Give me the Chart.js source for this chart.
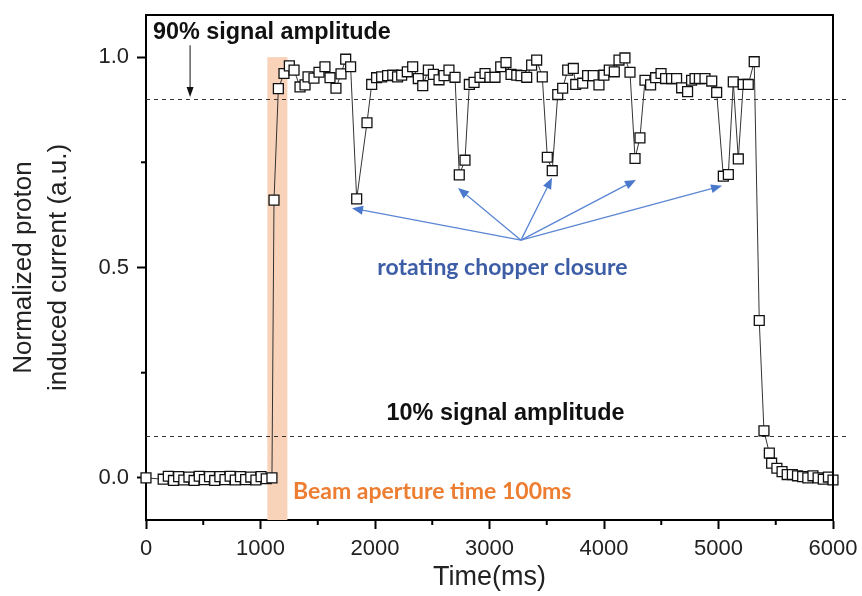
<!DOCTYPE html>
<html>
<head>
<meta charset="utf-8">
<script src="https://cdn.jsdelivr.net/npm/chart.js@4.4.0/dist/chart.umd.min.js"></script>
<style>
  body { margin: 0; background: #fff; }
  #wrap { width: 862px; height: 596px; position: relative; }
</style>
</head>
<body>
<div id="wrap"><canvas id="chart"></canvas></div>
<script>
// Measured signal (time in ms, normalized current)
const timeMs = [
    0, 150, 195, 240, 285, 330, 375, 420, 465, 510, 555, 600, 645, 690, 735, 780, 825, 870, 915, 960, 1005, 1050, 1100,
    1118, 1156, 1205, 1252, 1293, 1345, 1389, 1415, 1467, 1511, 1563, 1607, 1659, 1703, 1744, 1787,
    1840, 1930, 1971, 2014, 2058, 2110, 2155, 2197, 2233, 2282, 2329, 2378, 2417, 2466, 2510, 2559, 2603, 2646, 2699,
    2736, 2786, 2824, 2865, 2917, 2961, 3004, 3048, 3098, 3144, 3188, 3238, 3275, 3325, 3368, 3412, 3461,
    3505, 3548, 3596, 3639, 3683, 3732, 3753, 3814, 3857, 3906, 3956, 3999, 4046, 4090, 4131, 4183, 4227,
    4271, 4314, 4358, 4407, 4451, 4498, 4538, 4590, 4634, 4678, 4730, 4765, 4795, 4833, 4882, 4941, 4984,
    5042, 5086, 5129, 5173, 5216, 5260, 5312, 5356, 5397, 5444, 5464, 5510, 5555, 5600, 5645, 5690, 5735,
    5780, 5825, 5870, 5915, 5960, 6000
];
const current = [
    0, -0.003, 0.004, -0.006, 0.003, -0.005, 0.002, -0.006, 0.004, -0.004, 0.003, -0.006, 0.003, -0.004, 0.004, -0.005, 0.003, -0.004, 0.002, -0.005, 0.003, -0.002, 0.0,
    0.66, 0.925, 0.961, 0.979, 0.969, 0.929, 0.934, 0.953, 0.950, 0.964, 0.977, 0.951, 0.926, 0.960, 0.995, 0.977,
    0.663, 0.844, 0.935, 0.951, 0.953, 0.956, 0.957, 0.953, 0.957, 0.965, 0.977, 0.949, 0.932, 0.969, 0.959, 0.946, 0.956, 0.969, 0.952,
    0.720, 0.755, 0.935, 0.940, 0.952, 0.961, 0.952, 0.952, 0.977, 0.987, 0.959, 0.957, 0.956, 0.952, 0.981, 0.993, 0.953,
    0.762, 0.730, 0.911, 0.926, 0.969, 0.973, 0.935, 0.938, 0.956, 0.956, 0.934, 0.957, 0.969, 0.965, 0.993, 0.998, 0.964,
    0.759, 0.808, 0.945, 0.934, 0.951, 0.961, 0.949, 0.949, 0.949, 0.927, 0.918, 0.945, 0.949, 0.949, 0.949, 0.943, 0.916,
    0.717, 0.721, 0.941, 0.758, 0.935, 0.935, 0.989, 0.374, 0.112, 0.059, 0.035, 0.023, 0.015, 0.008, 0.008, 0.005, 0.003,
    0.000, 0.005, 0.000, -0.003, 0.002, -0.005
];

// Axis ticks
const xTicks = [0, 500, 1000, 1500, 2000, 2500, 3000, 3500, 4000, 4500, 5000, 5500, 6000];
const xLabeled = [0, 1000, 2000, 3000, 4000, 5000, 6000];
const yTicks = [0, 0.25, 0.5, 0.75, 1.0];
const yLabeled = [0, 0.5, 1.0];

// Annotation values
const thresholds = [0.9, 0.1];
const aperture = [1060, 1235];          // beam aperture window (ms)
const chopperFrom = [3275, 0.565];      // where the blue arrows start
const chopperTips = [[1799, 0.641], [2725, 0.689], [3546, 0.713], [4279, 0.708], [5031, 0.694]];
const ampArrow = [385, 1.028, 0.905];   // x, from y, to y

const points = timeMs.map((t, i) => ({ x: t, y: current[i] }));

function arrowHead(ctx, x0, y0, x1, y1, len, half) {
    const a = Math.atan2(y1 - y0, x1 - x0);
    ctx.beginPath();
    ctx.moveTo(x1, y1);
    ctx.lineTo(x1 - len * Math.cos(a) + half * Math.sin(a), y1 - len * Math.sin(a) - half * Math.cos(a));
    ctx.lineTo(x1 - len * Math.cos(a) - half * Math.sin(a), y1 - len * Math.sin(a) + half * Math.cos(a));
    ctx.closePath();
    ctx.fill();
}

const decor = {
    id: 'decor',
    beforeDatasetsDraw(chart) {
        const { ctx, chartArea, scales: { x, y } } = chart;
        ctx.save();
        // orange aperture band
        ctx.fillStyle = '#F8D3BA';
        ctx.fillRect(x.getPixelForValue(aperture[0]), y.getPixelForValue(1.0),
            x.getPixelForValue(aperture[1]) - x.getPixelForValue(aperture[0]),
            chartArea.bottom - y.getPixelForValue(1.0));
        // dashed threshold lines
        ctx.strokeStyle = '#333';
        ctx.lineWidth = 1;
        ctx.setLineDash([4, 4]);
        thresholds.forEach(v => {
            const py = Math.round(y.getPixelForValue(v)) + 0.5;
            ctx.beginPath();
            ctx.moveTo(chartArea.left, py);
            ctx.lineTo(chartArea.right + 15, py);
            ctx.stroke();
        });
        ctx.restore();
    },
    afterDatasetsDraw(chart) {
        const { ctx, scales: { x, y } } = chart;
        ctx.save();
        // black arrow to 90% line
        const ax = x.getPixelForValue(ampArrow[0]);
        const ay0 = y.getPixelForValue(ampArrow[1]);
        const ay1 = y.getPixelForValue(ampArrow[2]);
        ctx.strokeStyle = '#111';
        ctx.fillStyle = '#111';
        ctx.lineWidth = 1;
        ctx.beginPath();
        ctx.moveTo(ax, ay0);
        ctx.lineTo(ax, ay1 - 6);
        ctx.stroke();
        arrowHead(ctx, ax, ay0, ax, ay1, 10, 3.5);

        // blue chopper arrows
        const ox = x.getPixelForValue(chopperFrom[0]);
        const oy = y.getPixelForValue(chopperFrom[1]);
        ctx.strokeStyle = '#5B86D3';
        ctx.fillStyle = '#4A78CC';
        ctx.lineWidth = 1.3;
        chopperTips.forEach(([tx, ty]) => {
            const px = x.getPixelForValue(tx);
            const py = y.getPixelForValue(ty);
            const a = Math.atan2(py - oy, px - ox);
            ctx.beginPath();
            ctx.moveTo(ox, oy);
            ctx.lineTo(px - 8 * Math.cos(a), py - 8 * Math.sin(a));
            ctx.stroke();
            arrowHead(ctx, ox, oy, px, py, 11, 4.5);
        });

        // texts
        ctx.textBaseline = 'middle';
        ctx.fillStyle = '#111';
        ctx.font = 'bold 23.4px "Liberation Sans", Arial, sans-serif';
        ctx.textAlign = 'left';
        ctx.fillText('90% signal amplitude', x.getPixelForValue(61), y.getPixelForValue(1.059));
        ctx.textAlign = 'center';
        ctx.fillText('10% signal amplitude', x.getPixelForValue(3140), y.getPixelForValue(0.154));

        ctx.font = 'bold 23px Lato, "Open Sans", sans-serif';
        ctx.fillStyle = '#3D5EA6';
        ctx.fillText('rotating chopper closure', x.getPixelForValue(3113), y.getPixelForValue(0.501));

        ctx.fillStyle = '#ED7D31';
        ctx.textAlign = 'left';
        ctx.fillText('Beam aperture time 100ms', x.getPixelForValue(1284), y.getPixelForValue(-0.033));
        ctx.restore();
    },
    afterDraw(chart) {
        const { ctx, chartArea, scales: { x, y } } = chart;
        ctx.save();
        // top and right frame
        ctx.strokeStyle = '#000';
        ctx.lineWidth = 2;
        ctx.beginPath();
        ctx.moveTo(chartArea.left, chartArea.top);
        ctx.lineTo(chartArea.right, chartArea.top);
        ctx.lineTo(chartArea.right, chartArea.bottom);
        ctx.stroke();
        // minor ticks
        xTicks.filter(v => !xLabeled.includes(v)).forEach(v => {
            const px = x.getPixelForValue(v);
            ctx.beginPath();
            ctx.moveTo(px, chartArea.bottom);
            ctx.lineTo(px, chartArea.bottom + 5);
            ctx.stroke();
        });
        yTicks.filter(v => !yLabeled.includes(v)).forEach(v => {
            const py = y.getPixelForValue(v);
            ctx.beginPath();
            ctx.moveTo(chartArea.left, py);
            ctx.lineTo(chartArea.left - 5, py);
            ctx.stroke();
        });
        ctx.restore();
    }
};

const tickFont = { family: '"Liberation Sans", Arial, sans-serif', size: 22 };

new Chart(document.getElementById('chart'), {
    type: 'line',
    data: {
        datasets: [{
            data: points,
            borderColor: '#333',
            borderWidth: 1,
            pointStyle: 'rect',
            pointRadius: 7,
            pointBorderColor: '#111',
            pointBackgroundColor: '#fff',
            pointBorderWidth: 1.3,
            tension: 0,
            clip: false
        }]
    },
    options: {
        responsive: true,
        maintainAspectRatio: false,
        animation: false,
        layout: { padding: { top: 15, right: 29, left: 0, bottom: 0 } },
        plugins: { legend: { display: false }, tooltip: { enabled: false } },
        scales: {
            x: {
                type: 'linear',
                min: 0,
                max: 6000,
                afterBuildTicks: s => { s.ticks = xTicks.map(v => ({ value: v })); },
                afterFit: s => { s.height = 76; s.paddingLeft = 0; s.paddingRight = 0; },
                ticks: {
                    autoSkip: false,
                    maxRotation: 0,
                    padding: 7,
                    color: '#222',
                    font: tickFont,
                    callback: v => xLabeled.includes(v) ? String(v) : ''
                },
                grid: {
                    drawOnChartArea: false,
                    tickLength: 9,
                    tickWidth: 2,
                    tickColor: c => xLabeled.includes(c.tick.value) ? '#000' : 'rgba(0,0,0,0)'
                },
                border: { color: '#000', width: 2 },
                title: {
                    display: true,
                    text: 'Time(ms)',
                    color: '#222',
                    font: { family: '"Liberation Sans", Arial, sans-serif', size: 27 },
                    padding: { top: 0, bottom: 2 }
                }
            },
            y: {
                min: -0.1,
                max: 1.1,
                afterBuildTicks: s => { s.ticks = yTicks.map(v => ({ value: v })); },
                afterFit: s => { s.width = 146; s.paddingTop = 0; s.paddingBottom = 0; },
                ticks: {
                    autoSkip: false,
                    padding: 8,
                    color: '#222',
                    font: tickFont,
                    callback: v => yLabeled.includes(v) ? v.toFixed(1) : ''
                },
                grid: {
                    drawOnChartArea: false,
                    tickLength: 9,
                    tickWidth: 2,
                    tickColor: c => yLabeled.includes(c.tick.value) ? '#000' : 'rgba(0,0,0,0)'
                },
                border: { color: '#000', width: 2 },
                title: {
                    display: true,
                    text: ['Normalized proton', 'induced current (a.u.)'],
                    color: '#222',
                    font: { family: '"Liberation Sans", Arial, sans-serif', size: 26, lineHeight: 1.35 },
                    padding: { top: 6, bottom: 0 }
                }
            }
        }
    },
    plugins: [decor]
});
</script>
</body>
</html>
